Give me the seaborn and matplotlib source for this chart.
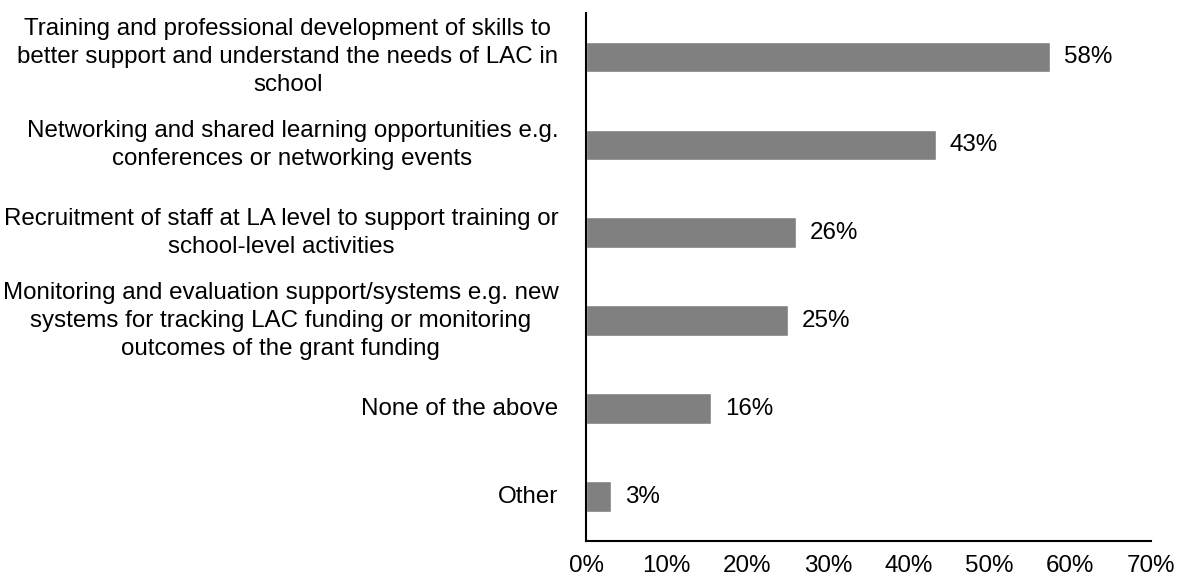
import matplotlib
matplotlib.use("Agg")
import matplotlib.pyplot as plt
import seaborn as sns
import pandas as pd

categories = [
    "Training and professional development of skills to\nbetter support and understand the needs of LAC in\nschool",
    "Networking and shared learning opportunities e.g.\nconferences or networking events",
    "Recruitment of staff at LA level to support training or\nschool-level activities",
    "Monitoring and evaluation support/systems e.g. new\nsystems for tracking LAC funding or monitoring\noutcomes of the grant funding",
    "None of the above",
    "Other",
]
values = [57.5, 43.4, 26.0, 25.0, 15.5, 3.1]
labels = ["58%", "43%", "26%", "25%", "16%", "3%"]
xticks = [0, 10, 20, 30, 40, 50, 60, 70]

df = pd.DataFrame({"category": categories, "value": values})

sns.set_style("white")
plt.rcParams["font.family"] = ["Liberation Sans", "DejaVu Sans"]
plt.rcParams["text.color"] = "black"
plt.rcParams["xtick.color"] = "black"
plt.rcParams["ytick.color"] = "black"

fs = 17.4

fig = plt.figure(figsize=(11.77, 5.79), dpi=100)
ax = fig.add_axes([0.4979, 0.0662, 0.4798, 0.9113])

sns.barplot(data=df, x="value", y="category", orient="h", color="#808080",
            saturation=1, width=0.35, ax=ax)

for i, (v, lab) in enumerate(zip(values, labels)):
    ax.text(v + 1.7, i, lab, va="center", ha="left", fontsize=fs, color="black")

ax.set_xlim(0, 70)
ax.set_ylim(5.5, -0.5)
ax.set_xticks(xticks)
ax.set_xticklabels([f"{t}%" for t in xticks], fontsize=fs)
ax.set_xlabel("")
ax.set_ylabel("")
for t in ax.get_yticklabels():
    t.set_fontsize(fs)
    t.set_color("black")
    t.set_multialignment("center")
    t.set_verticalalignment("center")
    t.set_linespacing(1.36)

ax.tick_params(axis="x", direction="out", length=6, width=1.5, color="black", pad=4)
ax.tick_params(axis="y", length=0, pad=20)
sns.despine(ax=ax, top=True, right=True)
for s in ["left", "bottom"]:
    ax.spines[s].set_color("black")
    ax.spines[s].set_linewidth(1.5)

fig.savefig("out.png", dpi=100)
